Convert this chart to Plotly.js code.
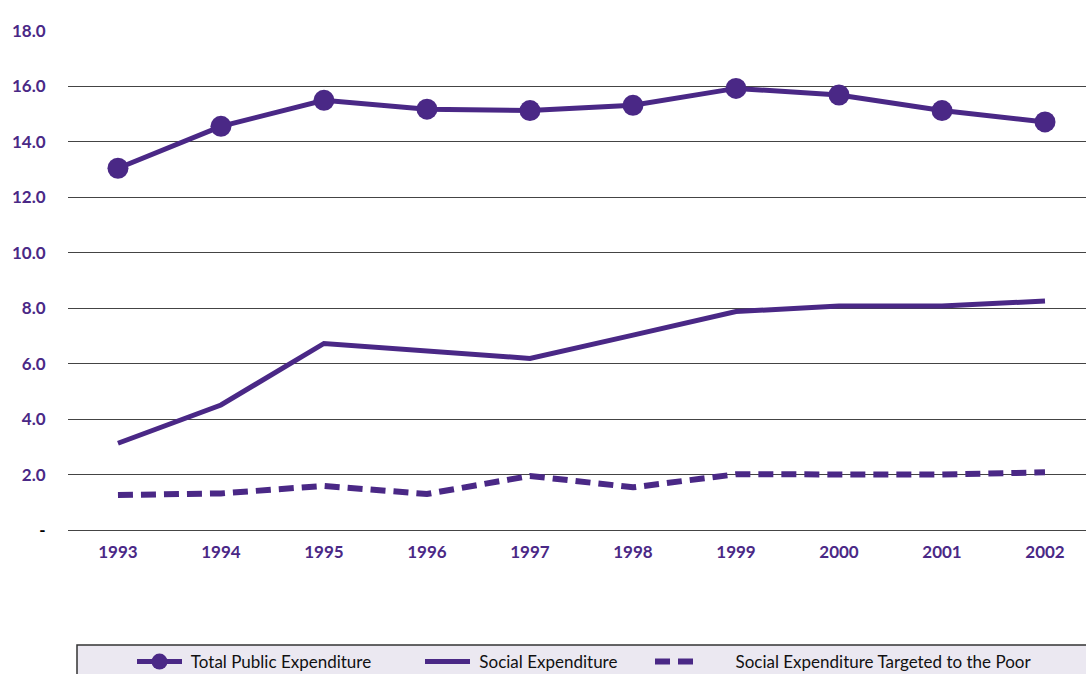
<!DOCTYPE html>
<html>
<head>
<meta charset="utf-8">
<script src="https://cdn.plot.ly/plotly-3.0.1.min.js"></script>
<style>html,body{margin:0;padding:0;background:#fff;}#chart{width:1086px;height:674px;}</style>
</head>
<body>
<div id="chart"></div>
<script>
const years = ["1993","1994","1995","1996","1997","1998","1999","2000","2001","2002"];
const totalPublic = [13.05, 14.56, 15.50, 15.18, 15.13, 15.32, 15.93, 15.69, 15.13, 14.72];
const socialExp = [3.13, 4.51, 6.73, 6.48, 6.19, 7.03, 7.88, 8.08, 8.08, 8.26];
const socialPoor = [1.26, 1.32, 1.59, 1.30, 1.95, 1.54, 2.01, 2.01, 2.00, 2.08];
const yTickVals = [0, 2, 4, 6, 8, 10, 12, 14, 16, 18];
const yTickText = ['<span style="color:#000">-</span>', "2.0", "4.0", "6.0", "8.0", "10.0", "12.0", "14.0", "16.0", "18.0"];

const purple = "#4a2886";
const legendFont = {family: "Lato, 'Open Sans', sans-serif", size: 17, color: "#111"};
const nb = "\u00a0";

const traces = [
  {x: years, y: totalPublic, name: nb + "Total Public Expenditure", type: "scatter", mode: "lines+markers",
   line: {color: purple, width: 5}, marker: {color: purple, size: 21}, legend: "legend"},
  {x: years, y: socialExp, name: nb + "Social Expenditure", type: "scatter", mode: "lines",
   line: {color: purple, width: 5}, legend: "legend2"},
  {x: years, y: socialPoor, name: nb.repeat(7) + "Social Expenditure Targeted to the Poor", type: "scatter", mode: "lines",
   line: {color: purple, width: 6, dash: "15px,8px"}, legend: "legend3"}
];

function leg(px) {
  return {x: px / 1086, xref: "container", y: (674 - 662) / 674, yref: "container", yanchor: "middle", xanchor: "left",
    orientation: "h", bgcolor: "rgba(0,0,0,0)", borderwidth: 0, font: legendFont, itemwidth: 45};
}

const layout = {
  width: 1086, height: 674,
  margin: {l: 68, r: 0, t: 31, b: 144, pad: 0, autoexpand: false},
  paper_bgcolor: "#fff", plot_bgcolor: "#fff",
  showlegend: true,
  xaxis: {type: "category", range: [-0.485, 9.398], showgrid: false, zeroline: false,
    showline: true, linecolor: "#444", linewidth: 1.2,
    ticks: "outside", ticklen: 6, tickcolor: "rgba(0,0,0,0)",
    tickfont: {family: "Lato, 'Open Sans', sans-serif", size: 17, color: purple, weight: "bold"}},
  yaxis: {range: [0, 18], tickvals: yTickVals, ticktext: yTickText, showgrid: true, gridcolor: "#444", gridwidth: 1.2,
    zeroline: false, showline: false, ticks: "outside", ticklen: 18, tickcolor: "rgba(0,0,0,0)",
    tickfont: {family: "Lato, 'Open Sans', sans-serif", size: 17, color: purple, weight: "bold"}},
  legend: leg(132),
  legend2: leg(420),
  legend3: leg(650),
  shapes: [{type: "rect", xref: "paper", yref: "paper", x0: (77 - 68) / 1018, x1: 1.05,
    y0: (530 - 710) / 499, y1: (530 - 645) / 499, fillcolor: "#ebe8f1", line: {color: "#333", width: 1.5}, layer: "below"}]
};

Plotly.newPlot("chart", traces, layout, {displayModeBar: false, staticPlot: true});
</script>
</body>
</html>
